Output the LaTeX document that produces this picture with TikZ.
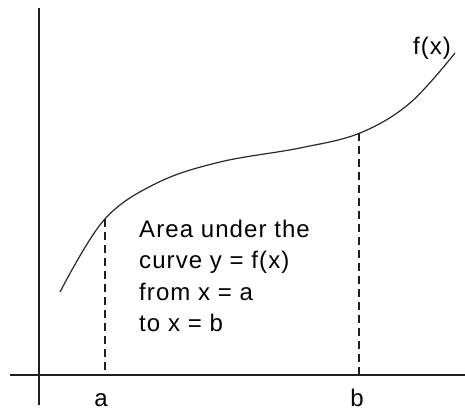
\documentclass[tikz,border=0pt]{standalone}
\usepackage{fontspec}
\setmainfont{Liberation Sans}
\newfontfamily\widesans[LetterSpace=4.5]{Liberation Sans}
\usetikzlibrary{positioning, calc}
\definecolor{axisInk}{RGB}{30,30,30}
\definecolor{curveInk}{RGB}{40,40,40}

\begin{document}
\begin{tikzpicture}[x=1pt, y=1pt,
    axisline/.style={axisInk, line width=1.5pt},
    guideline/.style={axisInk, line width=1.6pt, dash pattern=on 8pt off 5pt},
    lbl/.style={font=\widesans\fontsize{24}{31}\selectfont, inner sep=0pt}]
        \useasboundingbox (0,0) rectangle (465,412);
        % axes
        \coordinate (yb) at (39,7);
        \coordinate (yt) at (39,404);
        \coordinate (xl) at (10,37);
        \coordinate (xr) at (465,37);
        \draw[axisline] (yb) -- (yt);
        \draw[axisline] (xl) -- (xr);
        % the function
        \draw[curveInk, line width=1.2pt, smooth, tension=0.6]
          plot coordinates {(60,120) (104,192) (157,229) (220,250)
            (300,264) (360,279) (410,309) (455,359)};
        % limits of integration
        \coordinate (fa) at (105,193);
        \coordinate (xa) at (105,37);
        \coordinate (fb) at (359,279);
        \coordinate (xb) at (359,37);
        \draw[guideline] (fa) -- (xa);
        \draw[guideline] (fb) -- (xb);
        \node[lbl] (la) at (101,12) {a};
        \node[lbl] (lb) at (357,14) {b};
        \node[lbl] (fx) at (432,364) {f(x)};
        \node[lbl, anchor=base west, align=left] (area) at (139,81)
          {Area under the\\curve y = f(x)\\from x = a\\to x = b};
      \end{tikzpicture}
\end{document}
